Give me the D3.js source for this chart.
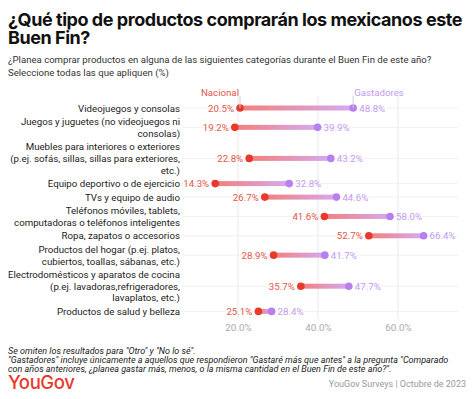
<!DOCTYPE html>
<html>
<head>
<meta charset="utf-8">
<script src="https://cdn.jsdelivr.net/npm/d3@7"></script>
<style>
  body { margin: 0; background: #fff; }
  svg { display: block; font-family: Roboto, "Noto Sans", sans-serif; }
</style>
</head>
<body>
<div id="chart"></div>
<script>
// categories, each split in the lines it is shown on
const categories = [
  ['Videojuegos y consolas'],
  ['Juegos y juguetes (no videojuegos ni', 'consolas)'],
  ['Muebles para interiores o exteriores', '(p.ej. sofás, sillas, sillas para exteriores,', 'etc.)'],
  ['Equipo deportivo o de ejercicio'],
  ['TVs y equipo de audio'],
  ['Teléfonos móviles, tablets,', 'computadoras o teléfonos inteligentes'],
  ['Ropa, zapatos o accesorios'],
  ['Productos del hogar (p.ej. platos,', 'cubiertos, toallas, sábanas, etc.)'],
  ['Electrodomésticos y aparatos de cocina', '(p.ej. lavadoras,refrigeradores,', 'lavaplatos, etc.)'],
  ['Productos de salud y belleza']
];
const nacional   = [20.5, 19.2, 22.8, 14.3, 26.7, 41.6, 52.7, 28.9, 35.7, 25.1];
const gastadores = [48.8, 39.9, 43.2, 32.8, 44.6, 58.0, 66.4, 41.7, 47.7, 28.4];
const xTicks = [20, 40, 60];

const W = 474, H = 399;
const red = '#e8392c', redText = '#e2574b', purple = '#b77ff0', purpleText = '#c49cf2';

const svg = d3.select('#chart').append('svg')
  .attr('width', W).attr('height', H);

const defs = svg.append('defs');
const grad = defs.append('linearGradient').attr('id', 'g').attr('x1', '0%').attr('x2', '100%');
grad.append('stop').attr('offset', '0%').attr('stop-color', '#f47f7a');
grad.append('stop').attr('offset', '100%').attr('stop-color', '#d5aaf2');

// title + subtitle
const title = svg.append('text')
  .attr('font-family', 'Inter, sans-serif').attr('font-weight', 700).attr('font-size', 18)
  .attr('letter-spacing', -0.45).attr('fill', '#111');
title.append('tspan').attr('x', 8).attr('y', 26).text('¿Qué tipo de productos comprarán los mexicanos este');
title.append('tspan').attr('x', 8).attr('y', 44).text('Buen Fin?');

const sub = svg.append('text').attr('font-size', 9.6).attr('fill', '#333');
sub.append('tspan').attr('x', 8).attr('y', 63)
  .text('¿Planea comprar productos en alguna de las siguientes categorías durante el Buen Fin de este año?');
sub.append('tspan').attr('x', 8).attr('y', 75.5)
  .text('Seleccione todas las que apliquen (%)');

// rows get taller with the number of label lines
const lineH = 11.7, rowPad = 1.8, rowsTop = 101.25;
let acc = rowsTop;
const rows = categories.map((lines, i) => {
  const h = lines.length * lineH + rowPad;
  const r = { lines, nac: nacional[i], gas: gastadores[i], y: acc + h / 2 };
  acc += h;
  return r;
});

const x = d3.scaleLinear().domain([20, 60]).range([238, 398]);
const plotL = 182, plotR = 458;

// grid
svg.append('g').selectAll('line').data(rows).join('line')
  .attr('x1', plotL).attr('x2', plotR)
  .attr('y1', d => d.y).attr('y2', d => d.y)
  .attr('stroke', '#f1f1f1').attr('stroke-width', 1);

svg.append('g').selectAll('line').data(xTicks).join('line')
  .attr('x1', d => x(d)).attr('x2', d => x(d))
  .attr('y1', 96).attr('y2', 319)
  .attr('stroke', '#e9e9e9').attr('stroke-width', 1);

const xAxis = svg.append('g').attr('transform', 'translate(0,320)')
  .call(d3.axisBottom(x).tickValues(xTicks).tickFormat(d => d.toFixed(1) + '%').tickSize(0).tickPadding(4));
xAxis.select('.domain').remove();
xAxis.selectAll('text').attr('fill', '#aaa').attr('font-size', 9.8)
  .attr('font-family', 'Roboto, sans-serif');

// category labels
svg.append('g').selectAll('text').data(rows).join('text')
  .attr('text-anchor', 'end').attr('font-size', 9.7).attr('fill', '#222')
  .each(function (d) {
    const n = d.lines.length;
    d3.select(this).selectAll('tspan').data(d.lines).join('tspan')
      .attr('x', 180)
      .attr('y', (l, j) => d.y + (j - (n - 1) / 2) * lineH + 3.5)
      .text(l => l);
  });

// connectors
svg.append('g').selectAll('rect').data(rows).join('rect')
  .attr('x', d => x(d.nac)).attr('width', d => x(d.gas) - x(d.nac))
  .attr('y', d => d.y - 2.5).attr('height', 5)
  .attr('fill', 'url(#g)');

// dots
svg.append('g').selectAll('circle').data(rows).join('circle')
  .attr('cx', d => x(d.gas)).attr('cy', d => d.y).attr('r', 3.8).attr('fill', purple);
svg.append('g').selectAll('circle').data(rows).join('circle')
  .attr('cx', d => x(d.nac)).attr('cy', d => d.y).attr('r', 3.8).attr('fill', red);

// value labels
svg.append('g').selectAll('text').data(rows).join('text')
  .attr('x', d => x(d.nac) - 6).attr('y', d => d.y + 3.5)
  .attr('text-anchor', 'end').attr('font-size', 9.7).attr('fill', redText)
  .text(d => d.nac.toFixed(1) + '%');
svg.append('g').selectAll('text').data(rows).join('text')
  .attr('x', d => x(d.gas) + 6).attr('y', d => d.y + 3.5)
  .attr('font-size', 9.7).attr('fill', purpleText)
  .text(d => d.gas.toFixed(1) + '%');

// legend pointing at first row
const first = rows[0];
svg.append('text').attr('x', x(first.nac) - 1).attr('y', 96)
  .attr('text-anchor', 'end').attr('font-size', 9.7).attr('fill', redText).text('Nacional');
svg.append('line').attr('x1', x(first.nac)).attr('x2', x(first.nac))
  .attr('y1', 96).attr('y2', first.y).attr('stroke', '#ccc');
svg.append('text').attr('x', x(first.gas) + 1).attr('y', 96)
  .attr('font-size', 9.7).attr('fill', purpleText).text('Gastadores');
svg.append('line').attr('x1', x(first.gas)).attr('x2', x(first.gas))
  .attr('y1', 96).attr('y2', first.y).attr('stroke', '#ccc');

// footnotes
const foot = svg.append('text').attr('font-size', 9).attr('font-style', 'italic').attr('fill', '#222');
[
  'Se omiten los resultados para "Otro" y "No lo sé".',
  '"Gastadores" incluye únicamente a aquellos que respondieron "Gastaré más que antes" a la pregunta "Comparado',
  'con años anteriores, ¿planea gastar más, menos, o la misma cantidad en el Buen Fin de este año?".'
].forEach((t, i) => foot.append('tspan').attr('x', 8).attr('y', 354 + i * 9).text(t));

svg.append('text').attr('x', 8).attr('y', 389)
  .attr('font-family', 'Inter, sans-serif').attr('font-size', 18.5).attr('font-weight', 500)
  .attr('letter-spacing', -0.4).attr('fill', red).text('YouGov');

svg.append('text').attr('x', 466).attr('y', 387).attr('text-anchor', 'end')
  .attr('font-size', 9).attr('fill', '#999').text('YouGov Surveys | Octubre de 2023');
</script>
</body>
</html>
